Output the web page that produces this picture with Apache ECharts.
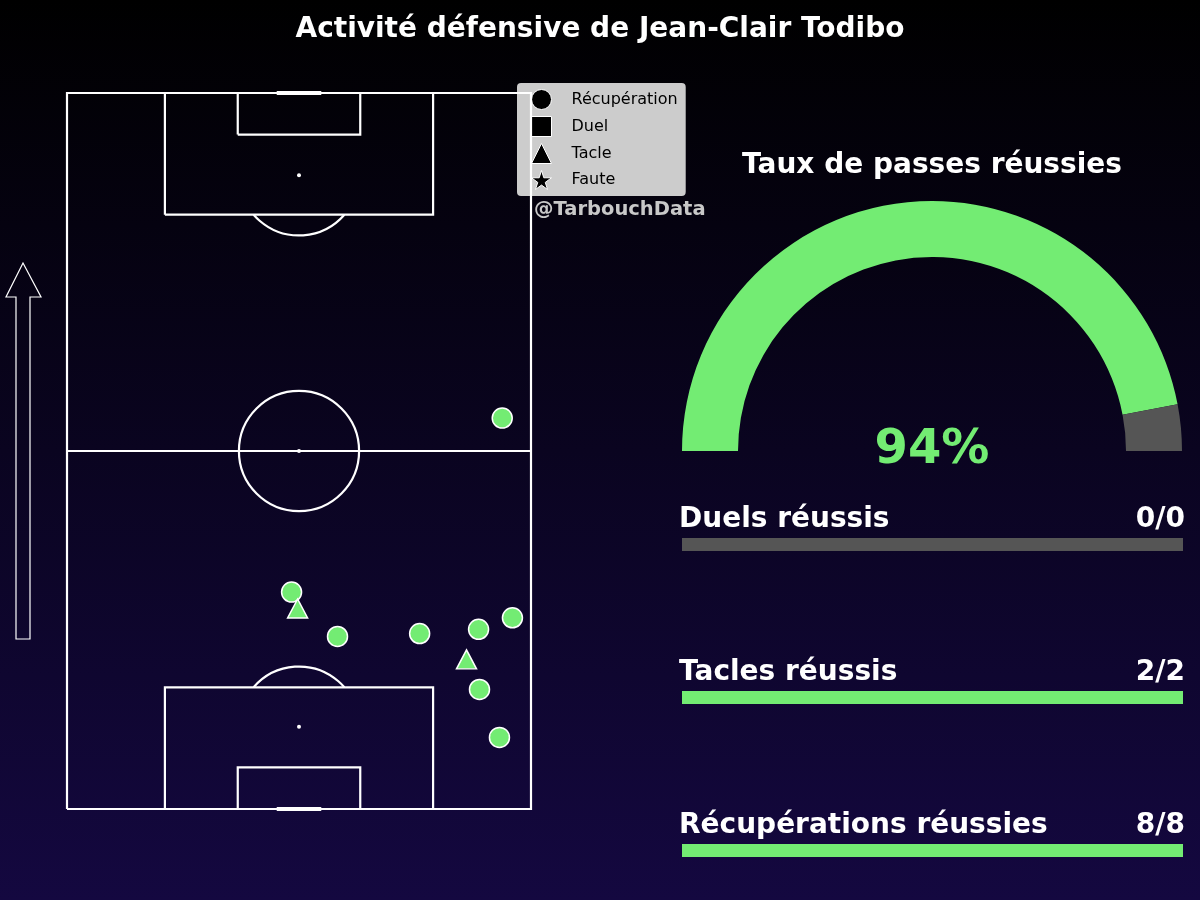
<!DOCTYPE html>
<html>
<head>
<meta charset="utf-8">
<script src="https://cdn.jsdelivr.net/npm/echarts@6/dist/echarts.min.js"></script>
<style>
  html, body { margin: 0; padding: 0; background: #000; }
  #chart { width: 1200px; height: 900px; }
</style>
</head>
<body>
<div id="chart"></div>
<script>
// actions défensives (coordonnées opta : x = largeur, y = longueur, attaque vers le haut)
const recoveryX = [93.8, 48.4, 58.3, 76.0, 88.7, 96.0, 88.9, 93.2]
const recoveryY = [54.6, 30.3, 24.1, 24.5, 25.1, 26.7, 16.7, 10.0]
const tackleX = [49.7, 86.1]
const tackleY = [28.0, 20.9]
const duelX = []
const duelY = []
const foulX = []
const foulY = []

// taux de passes
const passRate = 94

// stats du bas
const statLabels = ['Duels réussis', 'Tacles réussis', 'Récupérations réussies']
const statWon = [0, 2, 8]
const statTotal = [0, 2, 8]

const legendNames = ['Récupération', 'Duel', 'Tacle', 'Faute']

const GREEN = '#73ec73'
const GREY = '#555555'
const FONT = '"DejaVu Sans", sans-serif'
const STAR = 'path://M50,0 L61,35 L98,35 L68,57 L79,91 L50,70 L21,91 L32,57 L2,35 L39,35 Z'

const zip = (xs, ys) => xs.map((x, i) => [x, ys[i]])

// terrain opta : dessiné via les axes de la grille
function drawPitch(params, api) {
  const p = (x, y) => api.coord([x, y])
  const stroke = { stroke: '#ffffff', fill: null, lineWidth: 2.2 }
  const poly = (pts, w) => ({
    type: 'polyline',
    shape: { points: pts.map(q => p(q[0], q[1])) },
    style: Object.assign({}, stroke, { lineWidth: w || 2.2 })
  })
  const box = (x0, y0, x1, y1) => poly([[x0, y0], [x1, y0], [x1, y1], [x0, y1], [x0, y0]])
  const dot = (x, y) => {
    const c = p(x, y)
    return { type: 'circle', shape: { cx: c[0], cy: c[1], r: 2 }, style: { fill: '#ffffff' } }
  }
  const r = api.size([12.95, 0])[0]
  const centre = p(50, 50)
  const children = [
    box(0, 0, 100, 100),
    poly([[0, 50], [100, 50]]),
    box(21.1, 0, 78.9, 17),
    box(21.1, 83, 78.9, 100),
    box(36.8, 0, 63.2, 5.8),
    box(36.8, 94.2, 63.2, 100),
    poly([[45.2, 0], [54.8, 0]], 4),
    poly([[45.2, 100], [54.8, 100]], 4),
    { type: 'circle', shape: { cx: centre[0], cy: centre[1], r }, style: stroke },
    dot(50, 50), dot(50, 11.5), dot(50, 88.5)
  ]
  // arcs de surface
  const topSpot = p(50, 88.5), topEdge = p(50, 83)
  const a1 = Math.asin(Math.min(1, (topEdge[1] - topSpot[1]) / r))
  children.push({
    type: 'arc',
    shape: { cx: topSpot[0], cy: topSpot[1], r, startAngle: a1, endAngle: Math.PI - a1, clockwise: true },
    style: stroke
  })
  const botSpot = p(50, 11.5), botEdge = p(50, 17)
  const a2 = Math.asin(Math.min(1, (botSpot[1] - botEdge[1]) / r))
  children.push({
    type: 'arc',
    shape: { cx: botSpot[0], cy: botSpot[1], r, startAngle: Math.PI + a2, endAngle: 2 * Math.PI - a2, clockwise: true },
    style: stroke
  })
  return { type: 'group', children }
}

const barTops = [538, 691, 844]
const labelY = [520, 673, 826]

const grids = [{ left: 67, top: 93, width: 464, height: 716 }]
const xAxes = [{ gridIndex: 0, type: 'value', min: 0, max: 100, show: false }]
const yAxes = [{ gridIndex: 0, type: 'value', min: 0, max: 100, show: false }]
const barSeries = []
const texts = []

statLabels.forEach((label, i) => {
  const g = i + 1
  grids.push({ left: 682, width: 501, top: barTops[i], height: 13 })
  xAxes.push({ gridIndex: g, type: 'value', min: 0, max: 1, show: false })
  yAxes.push({ gridIndex: g, type: 'category', data: [label], show: false })
  barSeries.push({
    type: 'bar',
    xAxisIndex: g,
    yAxisIndex: g,
    barWidth: '100%',
    showBackground: true,
    backgroundStyle: { color: GREY },
    itemStyle: { color: GREEN },
    data: [statTotal[i] ? statWon[i] / statTotal[i] : 0],
    silent: true
  })
  texts.push({
    type: 'text', x: 679, y: labelY[i],
    style: { text: label, fill: '#ffffff', font: 'bold 28px ' + FONT, textAlign: 'left', textVerticalAlign: 'middle' }
  })
  texts.push({
    type: 'text', x: 1185, y: labelY[i],
    style: { text: statWon[i] + '/' + statTotal[i], fill: '#ffffff', font: 'bold 28px ' + FONT, textAlign: 'right', textVerticalAlign: 'middle' }
  })
})

const legendIcons = ['circle', 'rect', 'triangle', STAR]

const chart = echarts.init(document.getElementById('chart'))
chart.setOption({
  animation: false,
  backgroundColor: {
    type: 'linear', x: 0, y: 0, x2: 0, y2: 1,
    colorStops: [{ offset: 0, color: '#000000' }, { offset: 1, color: '#140840' }]
  },
  title: {
    text: 'Activité défensive de Jean-Clair Todibo',
    left: 'center',
    top: 11,
    textStyle: { color: '#ffffff', fontSize: 28, fontWeight: 'bold', fontFamily: FONT }
  },
  legend: {
    orient: 'vertical',
    left: 517,
    top: 83,
    padding: [6, 8, 6, 14],
    backgroundColor: '#cccccc',
    borderRadius: 4,
    itemWidth: 20,
    itemHeight: 20,
    itemGap: 6,
    selectedMode: false,
    z: 1,
    textStyle: { color: '#000000', fontSize: 16, fontFamily: FONT, padding: [0, 0, 0, 15] },
    data: legendNames.map((name, i) => ({
      name,
      icon: legendIcons[i],
      itemStyle: { color: '#000', borderColor: '#fff', borderWidth: 1 }
    }))
  },
  grid: grids,
  xAxis: xAxes,
  yAxis: yAxes,
  graphic: [
    {
      type: 'polygon',
      shape: { points: [[23, 263], [41, 297], [30, 297], [30, 639], [16, 639], [16, 297], [6, 297]] },
      style: { fill: null, stroke: '#ffffff', lineWidth: 1.2 }
    },
    {
      type: 'text', x: 534, y: 210,
      style: { text: '@TarbouchData', fill: '#c8c8c8', font: 'bold 19.5px ' + FONT, textAlign: 'left', textVerticalAlign: 'middle' }
    },
    {
      type: 'text', x: 932, y: 166,
      style: { text: 'Taux de passes réussies', fill: '#ffffff', font: 'bold 28px ' + FONT, textAlign: 'center', textVerticalAlign: 'middle' }
    },
    {
      type: 'text', x: 932, y: 451,
      style: { text: passRate + '%', fill: GREEN, font: 'bold 48px ' + FONT, textAlign: 'center', textVerticalAlign: 'middle' }
    }
  ].concat(texts),
  series: [
    {
      type: 'custom',
      name: 'terrain',
      xAxisIndex: 0,
      yAxisIndex: 0,
      z: 3,
      silent: true,
      renderItem: drawPitch,
      data: [[50, 50]]
    },
    {
      type: 'scatter', name: 'Récupération', symbol: 'circle', symbolSize: 20, z: 5,
      itemStyle: { color: GREEN, borderColor: '#ffffff', borderWidth: 1.5, opacity: 1 },
      data: zip(recoveryX, recoveryY)
    },
    {
      type: 'scatter', name: 'Duel', symbol: 'rect', symbolSize: 18, z: 5,
      itemStyle: { color: GREEN, borderColor: '#ffffff', borderWidth: 1.5, opacity: 1 },
      data: zip(duelX, duelY)
    },
    {
      type: 'scatter', name: 'Tacle', symbol: 'triangle', symbolSize: [20, 19], z: 5,
      itemStyle: { color: GREEN, borderColor: '#ffffff', borderWidth: 1.5, opacity: 1 },
      data: zip(tackleX, tackleY)
    },
    {
      type: 'scatter', name: 'Faute', symbol: STAR, symbolSize: 20, z: 5,
      itemStyle: { color: GREEN, borderColor: '#ffffff', borderWidth: 1.5, opacity: 1 },
      data: zip(foulX, foulY)
    },
    {
      type: 'pie',
      name: 'passes',
      center: [932, 451],
      radius: [194, 250],
      startAngle: 180,
      silent: true,
      label: { show: false },
      labelLine: { show: false },
      itemStyle: { borderWidth: 0 },
      data: [
        { value: passRate, itemStyle: { color: GREEN } },
        { value: 100 - passRate, itemStyle: { color: GREY } },
        { value: 100, itemStyle: { color: 'rgba(0,0,0,0)' } }
      ]
    }
  ].concat(barSeries)
})
</script>
</body>
</html>
